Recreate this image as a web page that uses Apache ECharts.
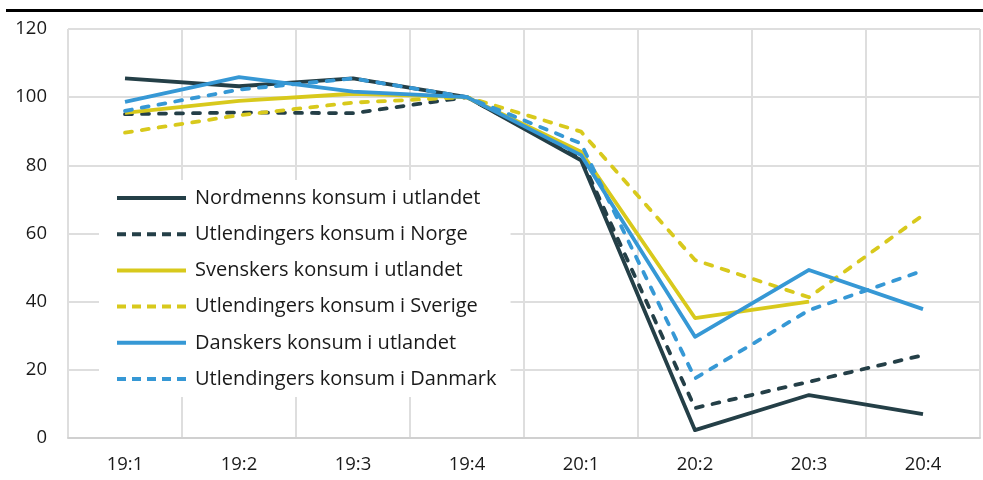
<!DOCTYPE html>
<html>
<head>
<meta charset="utf-8">
<script src="https://cdn.jsdelivr.net/npm/echarts@6/dist/echarts.min.js"></script>
<style>
  html, body { margin: 0; padding: 0; background: #fff; }
  #chart { width: 983px; height: 480px; }
</style>
</head>
<body>
<div id="chart"></div>
<script>
// Quarters and index values (2019:4 = 100)
const quarters = ['19:1', '19:2', '19:3', '19:4', '20:1', '20:2', '20:3', '20:4'];

const nordmennUtland   = [105.5, 103.2, 105.5, 100, 81.5, 2.3, 12.6, 7.0];
const utlendingerNorge = [95.0, 95.5, 95.3, 100, 82.1, 8.8, 16.5, 24.3];
const svenskerUtland   = [95.4, 98.9, 101.0, 100, 84.0, 35.2, 40.0, null];
const utlendingerSverige = [89.6, 94.7, 98.4, 100, 89.9, 52.2, 41.3, 65.4];
const danskerUtland    = [98.6, 105.9, 101.6, 100, 83.0, 29.7, 49.3, 37.8];
const utlendingerDanmark = [96.0, 102.2, 105.5, 100, 86.4, 17.5, 37.5, 49.1];

const yTicks = { min: 0, max: 120, interval: 20 };

const DARK = '#243f47';
const YELLOW = '#d8c91c';
const BLUE = '#3698d5';

// Legend glyphs: a solid bar and a five-dash bar
const SOLID_ICON = 'path://M0,0H69V4H0Z';
const DASH_ICON = 'path://M0,0H9V4H0Z M15,0H24V4H15Z M30,0H39V4H30Z M45,0H54V4H45Z M60,0H69V4H60Z';

function line(name, data, color, dashed) {
  return {
    name: name,
    type: 'line',
    data: data,
    symbol: 'none',
    connectNulls: false,
    lineStyle: {
      color: color, width: 3.8,
      type: dashed ? [7, 10] : 'solid',
      cap: dashed ? 'round' : 'butt', join: 'round'
    },
    itemStyle: { color: color },
    emphasis: { disabled: true }
  };
}

const seriesList = [
  line('Nordmenns konsum i utlandet', nordmennUtland, DARK, false),
  line('Utlendingers konsum i Norge', utlendingerNorge, DARK, true),
  line('Svenskers konsum i utlandet', svenskerUtland, YELLOW, false),
  line('Utlendingers konsum i Sverige', utlendingerSverige, YELLOW, true),
  line('Danskers konsum i utlandet', danskerUtland, BLUE, false),
  line('Utlendingers konsum i Danmark', utlendingerDanmark, BLUE, true)
];

const chart = echarts.init(document.getElementById('chart'), null, { renderer: 'canvas' });
chart.setOption({
  animation: false,
  textStyle: { fontFamily: '"Open Sans", sans-serif' },
  graphic: [{
    type: 'rect',
    shape: { x: 6, y: 9, width: 977, height: 3 },
    style: { fill: '#000' },
    silent: true
  }],
  grid: { left: 68, right: 3, top: 29, bottom: 42, containLabel: false },
  legend: {
    orient: 'vertical',
    left: 99,
    top: 180,
    itemWidth: 71,
    itemHeight: 4,
    itemGap: 16.2,
    padding: [8, 14, 8, 18],
    backgroundColor: '#fff',
    textStyle: { fontSize: 20, color: '#1a1a1a', fontFamily: '"Open Sans", sans-serif', padding: [0, 0, 0, 3] },
    data: seriesList.map(s => ({
      name: s.name,
      icon: s.lineStyle.type === 'solid' ? SOLID_ICON : DASH_ICON,
      itemStyle: { color: s.lineStyle.color, borderWidth: 0 }
    }))
  },
  xAxis: {
    type: 'category',
    data: quarters,
    boundaryGap: true,
    axisLine: { show: true, lineStyle: { color: '#d0d0d0', width: 2 } },
    axisTick: { show: false },
    axisLabel: { fontSize: 18.5, color: '#1a1a1a', margin: 17 },
    splitLine: { show: true, lineStyle: { color: '#dedede', width: 2 } }
  },
  yAxis: {
    type: 'value',
    min: yTicks.min,
    max: yTicks.max,
    interval: yTicks.interval,
    axisLine: { show: false },
    axisTick: { show: false },
    axisLabel: { fontSize: 18.5, color: '#1a1a1a', margin: 21 },
    splitLine: { show: true, lineStyle: { color: '#dedede', width: 2 } }
  },
  series: seriesList
});
</script>
</body>
</html>
